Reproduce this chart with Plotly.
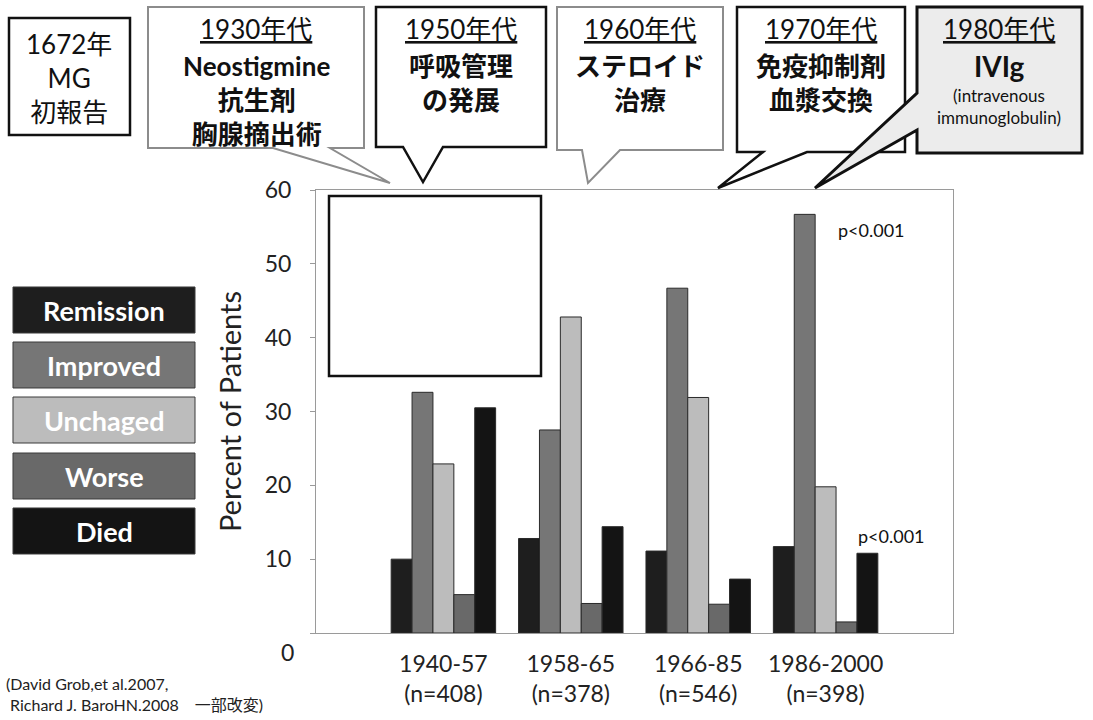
import plotly.graph_objects as go

# ---- data -------------------------------------------------------------
periods = ["1940-57", "1958-65", "1966-85", "1986-2000"]
counts = ["n=408", "n=378", "n=546", "n=398"]
outcomes = ["Remission", "Improved", "Unchaged", "Worse", "Died"]
remission = [10.0, 12.8, 11.1, 11.7]
improved = [32.6, 27.5, 46.7, 56.7]
unchanged = [22.9, 42.8, 31.9, 19.8]
worse = [5.2, 4.0, 3.9, 1.5]
died = [30.5, 14.4, 7.3, 10.8]
y_ticks = [0, 10, 20, 30, 40, 50, 60]

first_report = ["1672年", "MG", "初報告"]
eras = ["1930年代", "1950年代", "1960年代", "1970年代", "1980年代"]
era_lines = [
    ["Neostigmine", "抗生剤", "胸腺摘出術"],
    ["呼吸管理", "の発展"],
    ["ステロイド", "治療"],
    ["免疫抑制剤", "血漿交換"],
    ["IVIg"],
]
ivig_note = ["(intravenous", "immunoglobulin)"]
p_label = "p<0.001"
source_lines = ["(David Grob,et al.2007,", " Richard J. BaroHN.2008　一部改変)"]

series = [remission, improved, unchanged, worse, died]
colors = ["#1e1e1e", "#767676", "#bcbcbc", "#696969", "#141414"]

FONT = "Lato, 'Noto Sans CJK JP', sans-serif"

# plot-area frame in page pixels
L, R, T, B = 316, 953, 190, 633
W, H = R - L, B - T


def px(x, y):
    return (x - L) / W, (B - y) / H


def path(points):
    parts = []
    for i, (x, y) in enumerate(points):
        a, b = px(x, y)
        parts.append(("M" if i == 0 else "L") + f" {a:.5f} {b:.5f}")
    return " ".join(parts) + " Z"


fig = go.Figure()
x_idx = list(range(len(periods)))
for name, vals, col in zip(outcomes, series, colors):
    fig.add_trace(go.Bar(
        x=x_idx, y=vals, name=name,
        marker=dict(color=col, line=dict(color="#2a2a2a", width=1)),
        showlegend=False,
    ))

shapes = []
annotations = []


def text(x, y, lines, size, color="#111", bold=False, anchor="center", align="center"):
    """Multi-line label; (x, y) is the centre of the whole block in page pixels."""
    if isinstance(lines, str):
        lines = [lines]
    s = "<br>".join(f"<b>{t}</b>" if bold else t for t in lines)
    a, b = px(x, y)
    annotations.append(dict(
        x=a, y=b, xref="paper", yref="paper", text=s, showarrow=False,
        xanchor=anchor, yanchor="middle", align=align,
        font=dict(size=size, color=color, family=FONT),
    ))


# first report box
shapes.append(dict(type="path", xref="paper", yref="paper",
                   path=path([(9, 18), (130, 18), (130, 135), (9, 135)]),
                   line=dict(color="#111", width=2.5), fillcolor="white"))
text(69, 78, first_report, 26)

# callout balloons
balloons = [
    dict(pts=[(148, 7), (364, 7), (364, 148), (330, 148), (390, 183), (273, 148), (148, 148)],
         line="#8c8c8c", fill="white", w=2),
    dict(pts=[(376, 7), (546, 7), (546, 147), (443, 147), (423, 182), (403, 147), (376, 147)],
         line="#111", fill="white", w=2.5),
    dict(pts=[(557, 7), (723, 7), (723, 150), (620, 150), (588, 183), (582, 150), (557, 150)],
         line="#8c8c8c", fill="white", w=2),
    dict(pts=[(737, 7), (905, 7), (905, 152), (807, 152), (718, 188), (763, 152), (737, 152)],
         line="#111", fill="white", w=2.5),
    dict(pts=[(917, 7), (1082, 7), (1082, 153), (917, 153), (917, 130), (815, 188), (917, 93)],
         line="#111", fill="#ececec", w=3),
]
for bl in balloons:
    shapes.append(dict(type="path", xref="paper", yref="paper", path=path(bl["pts"]),
                       line=dict(color=bl["line"], width=bl["w"]), fillcolor=bl["fill"]))

centers = [256, 461, 640, 821, 999]
line_gap = 33.8
for k, (cx, era, lines) in enumerate(zip(centers, eras, era_lines)):
    text(cx, 29, f"<u>{era}</u>", 26)
    size = 28 if k == 4 else 26
    text(cx, 66 + (len(lines) - 1) * line_gap / 2, lines, size, bold=True)
text(999, 107, ivig_note, 17)

# outcome key boxes
key_tops = [287, 342, 397, 453, 508]
for name, col, top in zip(outcomes, colors, key_tops):
    shapes.append(dict(type="path", xref="paper", yref="paper",
                       path=path([(13, top), (195, top), (195, top + 46), (13, top + 46)]),
                       line=dict(color="#3a3a3a", width=1), fillcolor=col))
    text(104, top + 23, name, 27, color="white", bold=True)

# empty framed panel inside the plot
shapes.append(dict(type="path", xref="paper", yref="paper",
                   path=path([(329, 196), (541, 196), (541, 376), (329, 376)]),
                   line=dict(color="#111", width=2.5), fillcolor="white"))

# significance notes
text(836, 230, p_label, 18, anchor="left")
text(856, 536, p_label, 18, anchor="left")

# zero label sits a little below the baseline
text(296, 652, "0", 23, color="#222", anchor="right")

# source note
text(4, 694, source_lines, 16, color="#222", anchor="left", align="left")

fig.update_layout(
    width=1093, height=720, autosize=False,
    margin=dict(l=L, r=1093 - R, t=T, b=720 - B, pad=0),
    paper_bgcolor="white", plot_bgcolor="white",
    barmode="group", bargap=0.18, bargroupgap=0,
    shapes=shapes, annotations=annotations,
    font=dict(family=FONT, color="#222"),
)
fig.update_xaxes(
    range=[-1, 4], tickvals=x_idx,
    ticktext=[f"{p}<br>({c})" for p, c in zip(periods, counts)],
    tickfont=dict(size=23, color="#222", family=FONT),
    showline=True, linecolor="#9a9a9a", linewidth=1, mirror=True,
    ticks="", showgrid=False, zeroline=False, ticklabelstandoff=10,
)
fig.update_yaxes(
    range=[0, 60], tickvals=y_ticks,
    ticktext=["" if v == 0 else str(v) for v in y_ticks],
    tickfont=dict(size=23, color="#222", family=FONT),
    title=dict(text="Percent of Patients", font=dict(size=29, color="#222", family=FONT),
               standoff=14),
    showline=True, linecolor="#9a9a9a", linewidth=1, mirror=True,
    ticks="outside", ticklen=5, tickcolor="#9a9a9a",
    showgrid=False, zeroline=False, ticklabelstandoff=14,
)

fig.write_html("out.html")
